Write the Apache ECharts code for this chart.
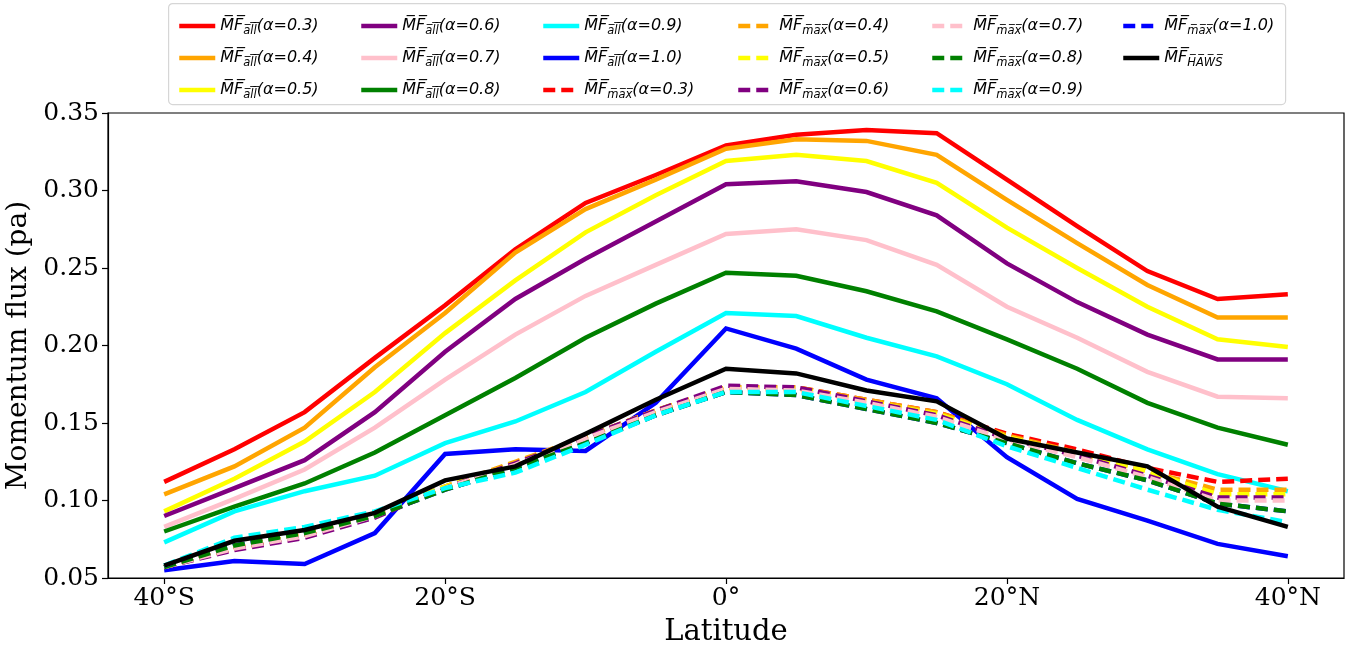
<!DOCTYPE html>
<html>
<head>
<meta charset="utf-8">
<script src="https://cdn.jsdelivr.net/npm/echarts@6/dist/echarts.min.js"></script>
<style>
  html, body { margin: 0; padding: 0; background: #fff; }
  #chart { width: 1352px; height: 646px; }
</style>
</head>
<body>
<div id="chart"></div>
<script>
// latitude points (deg, negative = south)
var lats = [-40, -35, -30, -25, -20, -15, -10, -5, 0, 5, 10, 15, 20, 25, 30, 35, 40]
var xTicks = [-40, -20, 0, 20, 40]

// MF_all, solid lines
var mfAll03 = [0.112, 0.133, 0.157, 0.192, 0.226, 0.262, 0.292, 0.310, 0.329, 0.336, 0.339, 0.337, 0.307, 0.277, 0.248, 0.230, 0.233]
var mfAll04 = [0.104, 0.122, 0.147, 0.186, 0.221, 0.260, 0.288, 0.307, 0.327, 0.333, 0.332, 0.323, 0.294, 0.266, 0.239, 0.218, 0.218]
var mfAll05 = [0.093, 0.114, 0.138, 0.170, 0.208, 0.242, 0.273, 0.297, 0.319, 0.323, 0.319, 0.305, 0.276, 0.250, 0.225, 0.204, 0.199]
var mfAll06 = [0.090, 0.108, 0.126, 0.157, 0.196, 0.230, 0.256, 0.280, 0.304, 0.306, 0.299, 0.284, 0.253, 0.228, 0.207, 0.191, 0.191]
var mfAll07 = [0.083, 0.101, 0.120, 0.147, 0.178, 0.207, 0.232, 0.252, 0.272, 0.275, 0.268, 0.252, 0.225, 0.205, 0.183, 0.167, 0.166]
var mfAll08 = [0.080, 0.096, 0.111, 0.131, 0.155, 0.179, 0.205, 0.227, 0.247, 0.245, 0.235, 0.222, 0.204, 0.185, 0.163, 0.147, 0.136]
var mfAll09 = [0.073, 0.093, 0.106, 0.116, 0.137, 0.151, 0.170, 0.196, 0.221, 0.219, 0.205, 0.193, 0.175, 0.152, 0.133, 0.117, 0.106]
var mfAll10 = [0.055, 0.061, 0.059, 0.079, 0.130, 0.133, 0.132, 0.163, 0.211, 0.198, 0.178, 0.166, 0.128, 0.101, 0.087, 0.072, 0.064]

// MF_max, dashed lines
var mfMax03 = [0.057, 0.069, 0.078, 0.091, 0.109, 0.124, 0.141, 0.158, 0.173, 0.173, 0.165, 0.157, 0.143, 0.133, 0.121, 0.112, 0.114]
var mfMax04 = [0.057, 0.069, 0.078, 0.092, 0.109, 0.125, 0.141, 0.158, 0.173, 0.173, 0.165, 0.157, 0.142, 0.131, 0.119, 0.107, 0.107]
var mfMax05 = [0.057, 0.069, 0.078, 0.091, 0.109, 0.124, 0.141, 0.158, 0.173, 0.172, 0.164, 0.156, 0.141, 0.130, 0.119, 0.104, 0.104]
var mfMax06 = [0.057, 0.068, 0.076, 0.089, 0.108, 0.124, 0.141, 0.158, 0.174, 0.173, 0.164, 0.155, 0.140, 0.129, 0.116, 0.102, 0.102]
var mfMax07 = [0.057, 0.069, 0.077, 0.090, 0.108, 0.123, 0.140, 0.157, 0.172, 0.171, 0.163, 0.154, 0.139, 0.128, 0.115, 0.100, 0.100]
var mfMax08 = [0.057, 0.071, 0.079, 0.090, 0.107, 0.121, 0.137, 0.155, 0.170, 0.168, 0.159, 0.150, 0.137, 0.124, 0.113, 0.098, 0.093]
var mfMax09 = [0.058, 0.076, 0.083, 0.093, 0.108, 0.118, 0.136, 0.155, 0.170, 0.170, 0.161, 0.152, 0.135, 0.121, 0.107, 0.094, 0.086]
var mfMax10 = [0.057, 0.071, 0.079, 0.090, 0.107, 0.121, 0.137, 0.155, 0.170, 0.168, 0.159, 0.150, 0.137, 0.124, 0.113, 0.098, 0.093]

var mfHaws = [0.058, 0.074, 0.081, 0.092, 0.113, 0.122, 0.143, 0.165, 0.185, 0.182, 0.171, 0.164, 0.140, 0.131, 0.122, 0.096, 0.083]

var chart = echarts.init(document.getElementById('chart'))

var serif = 'DejaVu Serif'
var OL = '\u0305'
function overline (s) {
  return s.split('').map(function (c) { return c + OL }).join('')
}

function lineSeries (name, vals, color, dashed, z) {
  return {
    name: name,
    type: 'line',
    symbol: 'none',
    z: z || 2,
    data: lats.map(function (x, i) { return [x, vals[i]] }),
    lineStyle: { color: color, width: 4.5, type: dashed ? [12, 6] : 'solid', cap: 'butt', join: 'miter' },
    itemStyle: { color: color },
    emphasis: { disabled: true }
  }
}

var series = [
  lineSeries('all|0.3', mfAll03, '#ff0000'),
  lineSeries('all|0.4', mfAll04, '#ffa500'),
  lineSeries('all|0.5', mfAll05, '#ffff00'),
  lineSeries('all|0.6', mfAll06, '#800080'),
  lineSeries('all|0.7', mfAll07, '#ffc0cb'),
  lineSeries('all|0.8', mfAll08, '#008000'),
  lineSeries('all|0.9', mfAll09, '#00ffff'),
  lineSeries('all|1.0', mfAll10, '#0000ff'),
  lineSeries('max|1.0', mfMax10, '#0000ff', true, 1),
  lineSeries('max|0.3', mfMax03, '#ff0000', true),
  lineSeries('max|0.4', mfMax04, '#ffa500', true),
  lineSeries('max|0.5', mfMax05, '#ffff00', true),
  lineSeries('max|0.6', mfMax06, '#800080', true),
  lineSeries('max|0.7', mfMax07, '#ffc0cb', true),
  lineSeries('max|0.8', mfMax08, '#008000', true),
  lineSeries('max|0.9', mfMax09, '#00ffff', true),
  lineSeries('HAWS', mfHaws, '#000000', false, 3)
]

// legend laid out column by column like matplotlib ncol=6
var legendCols = [
  ['all|0.3', 'all|0.4', 'all|0.5'],
  ['all|0.6', 'all|0.7', 'all|0.8'],
  ['all|0.9', 'all|1.0', 'max|0.3'],
  ['max|0.4', 'max|0.5', 'max|0.6'],
  ['max|0.7', 'max|0.8', 'max|0.9'],
  ['max|1.0', 'HAWS']
]
var legendX = [172, 354, 536, 731, 925, 1116]

var legendRich = {
  mf: { fontFamily: 'DejaVu Sans', fontStyle: 'italic', fontSize: 16, lineHeight: 22, color: '#000', verticalAlign: 'bottom', padding: [0, 0, 3, 0] },
  sub: { fontFamily: 'DejaVu Sans', fontStyle: 'italic', fontSize: 11.5, lineHeight: 22, color: '#000', verticalAlign: 'bottom' },
  t: { fontFamily: 'DejaVu Sans', fontStyle: 'italic', fontSize: 16, lineHeight: 22, color: '#000', verticalAlign: 'bottom', padding: [0, 0, 3, 0] }
}

function legendFormatter (name) {
  if (name === 'HAWS') {
    return '{mf|' + overline('MF') + '}{sub|' + overline('HAWS') + '}'
  }
  var p = name.split('|')
  return '{mf|' + overline('MF') + '}{sub|' + overline(p[0]) + '}{t|(\u03b1=' + p[1] + ')}'
}

var legends = legendCols.map(function (col, i) {
  return {
    orient: 'vertical',
    left: legendX[i],
    top: 13,
    data: col,
    itemWidth: 36,
    itemHeight: 14,
    itemGap: 13,
    selectedMode: false,
    itemStyle: { opacity: 0 },
    lineStyle: { width: 4.5 },
    formatter: legendFormatter,
    textStyle: { rich: legendRich }
  }
})

var option = {
  animation: false,
  backgroundColor: '#fff',
  graphic: [{
    type: 'rect',
    left: 168,
    top: 3,
    shape: { width: 1117, height: 101, r: 4 },
    style: { fill: '#fff', stroke: '#d6d6d6', lineWidth: 1.2 },
    z: -1
  }],
  legend: legends,
  grid: {
    left: 108,
    right: 8,
    top: 113,
    bottom: 68,
    outerBoundsMode: 'none',
    show: true,
    borderColor: '#000',
    borderWidth: 1.2
  },
  xAxis: {
    type: 'value',
    min: -44,
    max: 44,
    name: 'Latitude',
    nameLocation: 'middle',
    nameGap: 40,
    nameTextStyle: { fontFamily: serif, fontSize: 29, color: '#000' },
    axisLine: { show: true, onZero: false, lineStyle: { color: '#000', width: 1.2 } },
    axisTick: { show: true, length: 6, customValues: xTicks, lineStyle: { color: '#000', width: 1.2 } },
    axisLabel: {
      customValues: xTicks,
      fontFamily: serif,
      fontSize: 25,
      color: '#000',
      margin: 8,
      formatter: function (v) {
        if (v === 0) return '0°'
        return Math.abs(v) + '°' + (v < 0 ? 'S' : 'N')
      }
    },
    splitLine: { show: false }
  },
  yAxis: {
    type: 'value',
    min: 0.05,
    max: 0.35,
    interval: 0.05,
    name: 'Momentum flux (pa)',
    nameLocation: 'middle',
    nameGap: 70,
    nameTextStyle: { fontFamily: serif, fontSize: 28, color: '#000' },
    axisLine: { show: true, onZero: false, lineStyle: { color: '#000', width: 1.2 } },
    axisTick: { show: true, length: 6, lineStyle: { color: '#000', width: 1.2 } },
    axisLabel: {
      fontFamily: serif,
      fontSize: 25,
      color: '#000',
      margin: 9,
      formatter: function (v) { return v.toFixed(2) }
    },
    splitLine: { show: false }
  },
  series: series
}

chart.setOption(option)
</script>
</body>
</html>
